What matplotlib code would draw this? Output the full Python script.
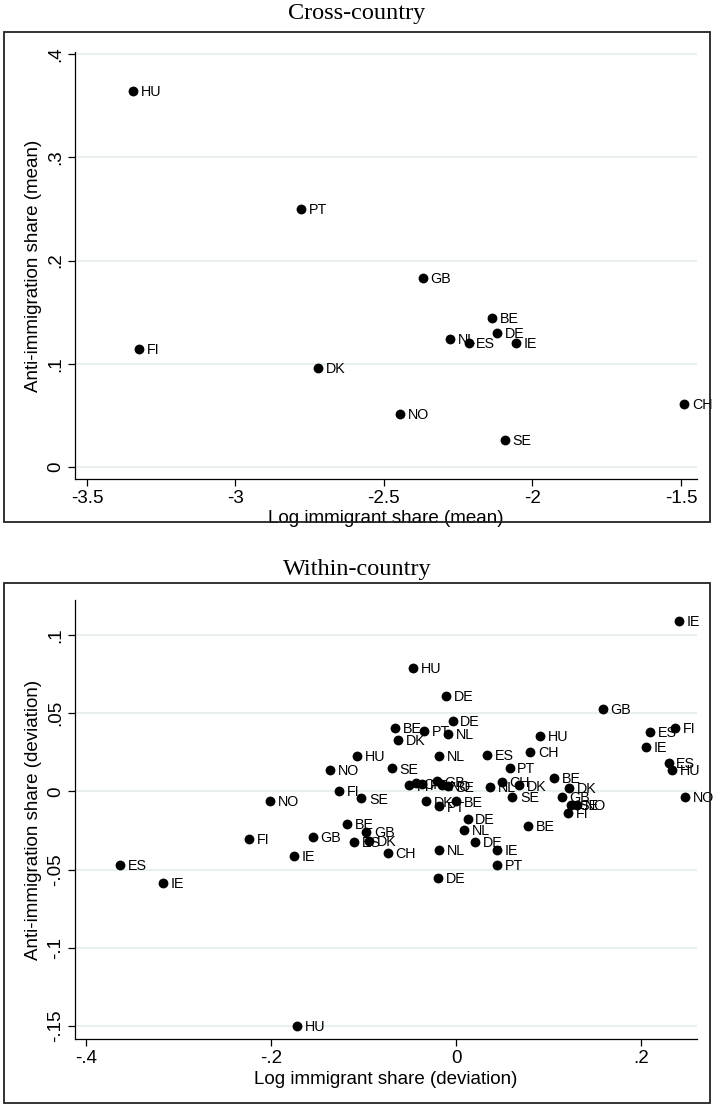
import matplotlib
matplotlib.use("Agg")
import matplotlib.pyplot as plt
from matplotlib.patches import Rectangle

# cross-country means
cross_codes = ["HU", "PT", "FI", "DK", "GB", "NL", "ES", "BE", "DE", "IE", "NO", "SE", "CH"]
cross_x = [-3.345, -2.779, -3.325, -2.722, -2.370, -2.277, -2.215, -2.136, -2.118, -2.056, -2.446, -2.093, -1.489]
cross_y = [0.364, 0.250, 0.114, 0.096, 0.183, 0.124, 0.120, 0.144, 0.130, 0.120, 0.051, 0.026, 0.061]

# within-country deviations
within_codes = ["IE"] * 5 + ["HU"] * 5 + ["DE"] * 5 + ["GB"] * 5 + ["ES"] * 5 + ["FI"] * 5 + \
               ["NL"] * 5 + ["PT"] * 5 + ["BE"] * 5 + ["DK"] * 5 + ["CH"] * 4 + ["NO"] * 5 + ["SE"] * 5
within_x = [0.2407, 0.2058, 0.044, -0.1751, -0.3168,
            -0.0468, 0.0905, 0.2339, -0.1067, -0.1719,
            -0.0111, -0.0036, 0.0124, 0.0202, -0.0191,
            0.1586, 0.1143, -0.097, -0.1546, -0.0205,
            0.2094, 0.0332, 0.2299, -0.1106, -0.3632,
            0.2368, -0.1264, 0.1214, -0.2241, -0.0508,
            -0.009, -0.0187, 0.0368, 0.009, -0.0187,
            -0.0345, 0.058, -0.0184, 0.044, -0.0368,
            -0.0656, 0.1063, 0.0003, -0.1178, 0.0782,
            -0.0627, 0.0685, 0.1222, -0.0321, -0.0944,
            0.0804, 0.0497, -0.0735, -0.0432,
            -0.1359, -0.2011, 0.2476, 0.131, -0.0151,
            -0.0692, -0.1024, 0.0609, 0.1245, -0.0086]
within_y = [0.109, 0.0282, -0.0374, -0.0415, -0.0583,
            0.0787, 0.0355, 0.0139, 0.0229, -0.150,
            0.0611, 0.0449, -0.0175, -0.0323, -0.0553,
            0.053, -0.0038, -0.0259, -0.0291, 0.0064,
            0.0378, 0.0235, 0.0184, -0.0323, -0.047,
            0.0408, 0.0003, -0.0139, -0.0301, 0.0038,
            0.0367, 0.0229, 0.003, -0.0248, -0.0374,
            0.0384, 0.0149, -0.0096, -0.0472, 0.0045,
            0.0408, 0.0088, -0.0064, -0.0207, -0.0218,
            0.0327, 0.0038, 0.0021, -0.0064, -0.0314,
            0.0252, 0.0058, -0.0395, 0.0051,
            0.0139, -0.0062, -0.0036, -0.0085, 0.0038,
            0.0147, -0.0045, -0.0036, -0.0085, 0.0032]

cross_xticks = [-3.5, -3, -2.5, -2, -1.5]
cross_xticklabels = ["-3.5", "-3", "-2.5", "-2", "-1.5"]
cross_yticks = [0, 0.1, 0.2, 0.3, 0.4]
cross_yticklabels = ["0", ".1", ".2", ".3", ".4"]
within_xticks = [-0.4, -0.2, 0, 0.2]
within_xticklabels = ["-.4", "-.2", "0", ".2"]
within_yticks = [-0.15, -0.1, -0.05, 0, 0.05, 0.1]
within_yticklabels = ["-.15", "-.1", "-.05", "0", ".05", ".1"]

plt.rcParams['font.family'] = ['Liberation Sans', 'DejaVu Sans']

W, H = 714, 1108
fig = plt.figure(figsize=(W / 100, H / 100), dpi=100)


def add_axes_px(left, top, right, bottom):
    return fig.add_axes([left / W, 1 - bottom / H, (right - left) / W, (bottom - top) / H])


def add_frame(top, bottom):
    fig.patches.append(Rectangle((4 / W, 1 - bottom / H), 706 / W, (bottom - top) / H,
                                 transform=fig.transFigure, fill=False, lw=1.3, ec="#222222"))


def draw_panel(ax, xs, ys, codes, xticks, xlabels, yticks, ylabels, xlabel, ylabel, px_h):
    ax.scatter(xs, ys, s=50, color="black", zorder=3, clip_on=False, linewidths=0)
    for x, y, c in zip(xs, ys, codes):
        ax.annotate(c, (x, y), xytext=(5.5, -0.8), textcoords="offset points",
                    ha="left", va="center", fontsize=10.3, zorder=4, annotation_clip=False)
    ax.set_xticks(xticks)
    ax.set_xticklabels(xlabels)
    ax.set_yticks(yticks)
    ax.set_yticklabels(ylabels, rotation=90, va="center")
    ax.yaxis.grid(True, color="#e6eef0", lw=1.3)
    ax.set_axisbelow(True)
    for s in ["top", "right"]:
        ax.spines[s].set_visible(False)
    for s in ["left", "bottom"]:
        ax.spines[s].set_linewidth(0.9)
    ax.tick_params(direction="out", length=5, width=0.9, labelsize=13.5, pad=3)
    ax.set_xlabel(xlabel, fontsize=13.5, va="center")
    ax.set_ylabel(ylabel, fontsize=13.5, va="center")
    ax.xaxis.set_label_coords(0.5, -40 / px_h)
    ax.yaxis.set_label_coords(-41 / 622, 0.5)


# top panel
add_frame(32, 522)
fig.text(357 / W, 1 - 14 / H, "Cross-country", ha="center", va="center",
         fontsize=17.5, family="Liberation Serif")
ax1 = add_axes_px(75, 52, 697, 479)
draw_panel(ax1, cross_x, cross_y, cross_codes, cross_xticks, cross_xticklabels,
           cross_yticks, cross_yticklabels, "Log immigrant share (mean)",
           "Anti-immigration share (mean)", 479 - 52)
ax1.set_xlim(-3.540, -1.446)
ax1.set_ylim(-0.0116, 0.402)

# bottom panel
add_frame(583, 1103)
fig.text(357 / W, 1 - 570 / H, "Within-country", ha="center", va="center",
         fontsize=17.5, family="Liberation Serif")
ax2 = add_axes_px(75, 600, 697, 1039)
draw_panel(ax2, within_x, within_y, within_codes, within_xticks, within_xticklabels,
           within_yticks, within_yticklabels, "Log immigrant share (deviation)",
           "Anti-immigration share (deviation)", 1039 - 600)
ax2.set_xlim(-0.412, 0.2605)
ax2.set_ylim(-0.1583, 0.1224)

fig.savefig("out.png", dpi=100)
